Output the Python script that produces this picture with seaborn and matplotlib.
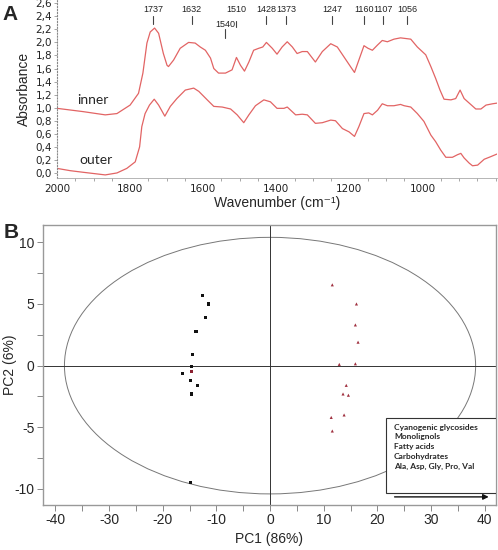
import pandas as pd
import seaborn as sns
import matplotlib.pyplot as plt
from matplotlib.patches import Ellipse, Rectangle
from matplotlib.ticker import FuncFormatter, MultipleLocator

# Panel A data: FTIR spectra
wn_inner = [2000, 1929, 1868, 1836, 1800, 1777, 1765, 1754, 1745, 1733, 1722, 1709, 1699, 1695,
            1681, 1663, 1640, 1622, 1608, 1594, 1580, 1571, 1558, 1539, 1521, 1509, 1498, 1487,
            1475, 1462, 1448, 1437, 1427, 1411, 1398, 1384, 1370, 1356, 1343, 1329, 1315, 1293,
            1274, 1251, 1233, 1215, 1197, 1186, 1174, 1160, 1149, 1137, 1123, 1110, 1096, 1078,
            1060, 1032, 1014, 991, 977, 964, 952, 941, 922, 909, 897, 886, 872, 854, 840, 826,
            808, 796]
abs_inner = [0.99, 0.94, 0.89, 0.91, 1.04, 1.22, 1.53, 1.99, 2.16, 2.22, 2.14, 1.83, 1.65, 1.63,
             1.73, 1.91, 2.00, 1.99, 1.93, 1.88, 1.76, 1.60, 1.53, 1.53, 1.58, 1.77, 1.65, 1.56,
             1.70, 1.88, 1.91, 1.93, 2.00, 1.91, 1.82, 1.93, 2.01, 1.93, 1.83, 1.86, 1.86, 1.70,
             1.86, 1.98, 1.93, 1.78, 1.63, 1.54, 1.73, 1.95, 1.91, 1.88, 1.96, 2.03, 2.01, 2.05,
             2.07, 2.05, 1.93, 1.81, 1.63, 1.45, 1.27, 1.13, 1.12, 1.14, 1.27, 1.14, 1.07, 0.98,
             0.98, 1.04, 1.06, 1.07]

wn_outer = [2000, 1964, 1928, 1868, 1836, 1809, 1786, 1774, 1768, 1759, 1747, 1734, 1722, 1705,
            1690, 1672, 1649, 1626, 1612, 1589, 1571, 1548, 1525, 1507, 1489, 1475, 1457, 1434,
            1416, 1398, 1379, 1370, 1347, 1329, 1315, 1293, 1274, 1251, 1238, 1219, 1201, 1186,
            1174, 1160, 1147, 1137, 1123, 1110, 1096, 1078, 1060, 1050, 1032, 1014, 996, 977,
            964, 950, 936, 918, 904, 895, 886, 872, 863, 849, 831, 813, 796]
abs_outer = [0.07, 0.035, 0.01, -0.03, 0.00, 0.07, 0.17, 0.40, 0.71, 0.91, 1.04, 1.13, 1.04, 0.87,
             1.02, 1.14, 1.27, 1.30, 1.25, 1.12, 1.02, 1.01, 0.98, 0.89, 0.77, 0.89, 1.03, 1.12,
             1.09, 0.99, 0.99, 1.01, 0.89, 0.90, 0.89, 0.76, 0.77, 0.81, 0.80, 0.68, 0.63, 0.56,
             0.71, 0.91, 0.92, 0.89, 0.96, 1.06, 1.03, 1.03, 1.05, 1.03, 1.01, 0.91, 0.79, 0.58,
             0.48, 0.35, 0.24, 0.24, 0.28, 0.30, 0.23, 0.15, 0.11, 0.12, 0.21, 0.25, 0.29]

peaks = [1737, 1632, 1540, 1510, 1428, 1373, 1247, 1160, 1107, 1056]

# Panel B data: PCA scores
pc1_black = [-12.5, -11.4, -12.0, -13.8, -14.4, -14.6, -16.3, -14.8, -13.5, -14.6, -14.8]
pc2_black = [5.66, 5.0, 3.9, 2.8, 0.9, -0.1, -0.65, -1.2, -1.6, -2.3, -9.5]
pc1_dark = [-14.6]
pc2_dark = [-0.5]
pc1_red = [11.6, 16.1, 15.9, 16.4, 12.9, 15.9, 14.2, 13.6, 14.6, 13.8, 11.4, 11.6]
pc2_red = [6.55, 5.0, 3.3, 1.9, 0.1, 0.15, -1.6, -2.3, -2.4, -4.0, -4.2, -5.3]

loadings = ['Cyanogenic glycosides', 'Monolignols', 'Fatty acids', 'Carbohydrates',
            'Ala, Asp, Gly, Pro, Val']

spec = pd.concat([
    pd.DataFrame({'wn': wn_inner, 'abs': abs_inner, 'tissue': 'inner'}),
    pd.DataFrame({'wn': wn_outer, 'abs': abs_outer, 'tissue': 'outer'}),
])
scores = pd.concat([
    pd.DataFrame({'pc1': pc1_black, 'pc2': pc2_black, 'grp': 'a'}),
    pd.DataFrame({'pc1': pc1_dark, 'pc2': pc2_dark, 'grp': 'c'}),
    pd.DataFrame({'pc1': pc1_red, 'pc2': pc2_red, 'grp': 'b'}),
])

sns.set_style('white')
plt.rcParams['font.family'] = ['Liberation Sans', 'DejaVu Sans']
plt.rcParams['axes.unicode_minus'] = False

fig = plt.figure(figsize=(4.98, 5.5), dpi=100)
axA = fig.add_axes([0.1145, 0.6764, 0.8835, 0.3236])
axB = fig.add_axes([0.0863, 0.0818, 0.9097, 0.5091])

# ---- panel A
red = '#e26464'
sns.lineplot(data=spec, x='wn', y='abs', hue='tissue', palette=[red, red],
             linewidth=0.9, legend=False, ax=axA)
axA.set_xlim(2000, 796)
axA.set_ylim(-0.077, 2.65)
axA.set_xticks([2000, 1800, 1600, 1400, 1200, 1000])
axA.set_yticks([i / 10 for i in range(0, 27, 2)])
axA.yaxis.set_major_formatter(FuncFormatter(lambda v, p: f'{v:.1f}'.replace('.', ',')))
axA.xaxis.set_minor_locator(MultipleLocator(50))
axA.tick_params(axis='both', labelsize=7.5, colors='#222222', length=3, width=0.6,
                direction='out', pad=1.5, color='#999999')
axA.tick_params(axis='x', which='minor', length=2, width=0.6, color='#999999', bottom=True)
axA.tick_params(axis='y', left=True, length=2)
for lab in axA.get_xticklabels() + axA.get_yticklabels():
    lab.set_family('DejaVu Sans')
for s in ['top', 'right']:
    axA.spines[s].set_visible(False)
axA.spines['left'].set_linestyle(':')
axA.spines['left'].set_color('#888888')
axA.spines['bottom'].set_color('#aaaaaa')
axA.spines['bottom'].set_linewidth(0.6)
axA.set_xlabel('Wavenumber (cm⁻¹)', fontsize=10, labelpad=1)
axA.set_ylabel('Absorbance', fontsize=10, labelpad=3)
axA.patch.set_alpha(0)

# label offsets as drawn in the original figure
shift = {1056: -15}
for p in peaks:
    x = p + shift.get(p, 0)
    if p == 1540:
        ty, y0, y1 = 2.28, 2.07, 2.20
    elif p == 1510:
        ty, y0, y1 = 2.50, 2.24, 2.33
    else:
        ty, y0, y1 = 2.50, 2.28, 2.40
    axA.text(x, ty, str(p), fontsize=6.5, ha='center', va='center', color='#222222')
    axA.plot([x, x], [y0, y1], color='#444444', lw=0.8)

axA.text(1945, 1.12, 'inner', fontsize=10, family='Lato', ha='left', va='center')
axA.text(1940, 0.20, 'outer', fontsize=10, family='Lato', ha='left', va='center')

# ---- panel B
axB.add_patch(Ellipse((0, 0), 76.6, 20.8, fill=False, edgecolor='#777777', lw=0.7))
axB.axhline(0, color='#333333', lw=0.7)
axB.axvline(0, color='#333333', lw=0.7)
sns.scatterplot(data=scores, x='pc1', y='pc2', hue='grp', style='grp',
                palette={'a': '#111111', 'b': '#a0303f', 'c': '#8b2030'},
                markers={'a': 's', 'b': '^', 'c': 's'}, s=5, linewidth=0,
                legend=False, ax=axB, zorder=3)
axB.set_xlim(-42.3, 42.1)
axB.set_ylim(-11.3, 11.4)
axB.set_xticks(range(-40, 41, 10))
axB.set_yticks([-10, -5, 0, 5, 10])
axB.xaxis.set_minor_locator(MultipleLocator(5))
axB.yaxis.set_minor_locator(MultipleLocator(2.5))
axB.tick_params(axis='both', which='both', direction='out', color='#888888', width=0.7,
                labelsize=10, bottom=True, left=True, pad=2)
axB.tick_params(which='major', length=4)
axB.tick_params(which='minor', length=4)
for s in axB.spines.values():
    s.set_color('#999999')
    s.set_linewidth(1.0)
axB.set_xlabel('PC1 (86%)', fontsize=10, labelpad=3)
axB.set_ylabel('PC2 (6%)', fontsize=10)
axB.yaxis.set_label_coords(-0.058, 0.5)

axB.add_patch(Rectangle((0.757, 0.043), 0.243, 0.268, transform=axB.transAxes,
                        facecolor='white', edgecolor='#333333', lw=0.8, zorder=4))
ys = [0.276, 0.243, 0.208, 0.174, 0.139]
for t, yy in zip(loadings, ys):
    axB.text(0.775, yy, t, transform=axB.transAxes, fontsize=6, family='Lato',
             weight='bold', ha='left', va='center', zorder=5)
axB.annotate('', xy=(0.99, 0.029), xytext=(0.770, 0.029), xycoords='axes fraction',
             arrowprops=dict(arrowstyle='-|>', color='#111111', lw=1.0, mutation_scale=8),
             zorder=5)

fig.text(0.02, 1 - 15 / 550, 'A', fontsize=15, weight='bold', ha='center', va='center')
fig.text(0.022, 1 - 233 / 550, 'B', fontsize=15, weight='bold', ha='center', va='center')

fig.savefig('out.png', dpi=100)
